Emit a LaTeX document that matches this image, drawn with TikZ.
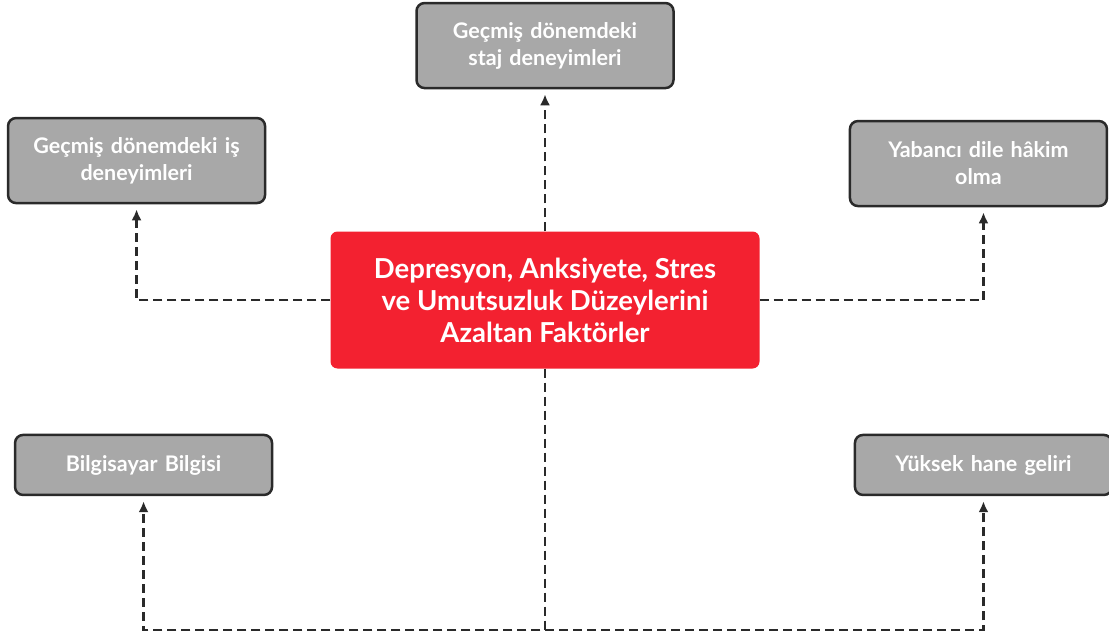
\documentclass[tikz,border=0pt]{standalone}
\usepackage{fontspec}
\setmainfont{Lato}
\usetikzlibrary{arrows.meta,positioning}
\definecolor{factorred}{RGB}{243,33,48}
\definecolor{boxgray}{RGB}{168,168,168}
\definecolor{edgedark}{RGB}{42,42,42}
\tikzset{
    %Define standard arrow tip
    >={Latex[length=11pt,width=10pt]},
    %Define style for boxes
    box/.style={
           rectangle,
           rounded corners=8pt,
           draw=edgedark, line width=2.5pt,
           fill=boxgray,
           text=white,
           font=\fontsize{21.5}{27}\selectfont\bfseries,
           minimum width=257pt,
           text width=240pt,
           align=center},
    twoline/.style={box, minimum height=85pt},
    oneline/.style={box, minimum height=60pt},
    %Define style for the centre box
    centre/.style={
           rectangle,
           rounded corners=7pt,
           fill=factorred,
           text=white,
           font=\fontsize{27.5}{32}\selectfont\bfseries,
           minimum width=429pt,
           minimum height=137pt,
           align=center},
    % Define arrow style
    link/.style={
           ->,
           draw=edgedark,
           line width=2.4pt,
           dash pattern=on 9pt off 5pt,
           shorten >=5pt}
}
\begin{document}
\begin{tikzpicture}[x=1pt,y=-1pt]
 \useasboundingbox (0,0) rectangle (1109,634);
 %nodes
    \node[centre] (main) at (545,300) {Depresyon, Anksiyete, Stres\\ve Umutsuzluk Düzeylerini\\Azaltan Faktörler};
    \node[twoline, above=142pt of main] (staj) {Geçmiş dönemdeki\\staj deneyimleri};
    \node[twoline, above left=27pt and 64pt of main] (is) {Geçmiş dönemdeki iş\\deneyimleri};
    \node[twoline, above right=24pt and 89pt of main] (dil) {Yabancı dile hâkim\\olma};
    \node[oneline, below left=65pt and 57pt of main] (bilgi) {Bilgisayar Bilgisi};
    \node[oneline, below right=65pt and 94pt of main] (gelir) {Yüksek hane geliri};
    \coordinate (split) at (main.south |- 0,630);
 %edges
    \draw[link] (main.north) -- (main.north -| staj.south) -- (staj.south);
    \draw[link] (main.west) -| (is.south);
    \draw[link] (main.east) -| ([xshift=5pt]dil.south);
    \draw[link] (main.south) -- (split) -| (bilgi.south);
    \draw[link] (split) -| (gelir.south);
\end{tikzpicture}
\end{document}
